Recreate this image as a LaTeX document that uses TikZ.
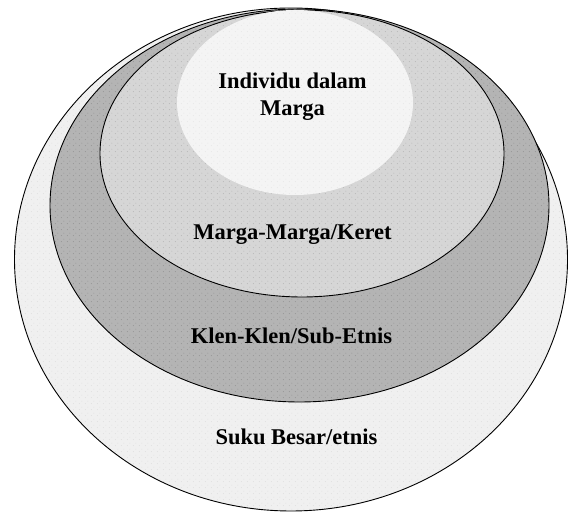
\documentclass[tikz,border=0pt]{standalone}
\usepackage{fontspec}
\setmainfont{Liberation Serif}
\usetikzlibrary{patterns.meta}
\tikzdeclarepattern{
  name=sdots,
  type=uncolored,
  bounding box={(0pt,0pt) and (6pt,6pt)},
  tile size={(6pt,6pt)},
  code={
    \pgfpathcircle{\pgfpoint{1.5pt}{1.5pt}}{0.55pt}
    \pgfpathcircle{\pgfpoint{4.5pt}{4.5pt}}{0.55pt}
    \pgfusepath{fill}
  }
}
\definecolor{outerfill}{HTML}{F0F0F0}
\definecolor{outerdot}{HTML}{D9D9D9}
\definecolor{klenfill}{HTML}{B4B4B4}
\definecolor{klendot}{HTML}{888888}
\definecolor{margafill}{HTML}{D6D6D6}
\definecolor{margadot}{HTML}{AAAAAA}
\definecolor{innerfill}{HTML}{F4F4F4}
\definecolor{innerdot}{HTML}{E2E2E2}
\tikzset{
  ring/.style={draw=black, line width=0.9pt},
  lbl/.style={anchor=base, inner sep=0pt, font=\fontsize{22.5}{28}\selectfont\bfseries}
}
\begin{document}
\begin{tikzpicture}[x=1pt,y=1pt]
\useasboundingbox (0,0) rectangle (568,513);
% outer: Suku Besar
\fill[outerfill] (291,253.5) ellipse [x radius=276.5, y radius=251.5];
\fill[pattern=sdots, pattern color=outerdot] (291,253.5) ellipse [x radius=276.5, y radius=251.5];
\draw[ring] (291,253.5) ellipse [x radius=276.5, y radius=251.5];
% Klen
\fill[klenfill] (299.5,307.5) ellipse [x radius=249.5, y radius=196.5];
\fill[pattern=sdots, pattern color=klendot] (299.5,307.5) ellipse [x radius=249.5, y radius=196.5];
\draw[ring] (299.5,307.5) ellipse [x radius=249.5, y radius=196.5];
% Marga
\fill[margafill] (302,359.5) ellipse [x radius=202, y radius=143.5];
\fill[pattern=sdots, pattern color=margadot] (302,359.5) ellipse [x radius=202, y radius=143.5];
\draw[ring] (302,359.5) ellipse [x radius=202, y radius=143.5];
% inner: Individu
\fill[innerfill] (295,410.5) ellipse [x radius=118, y radius=92.5];
\fill[pattern=sdots, pattern color=innerdot] (295,410.5) ellipse [x radius=118, y radius=92.5];
% labels
\node[lbl] (ind1) at (292.5,424) {Individu dalam};
\node[lbl] (ind2) at (292.5,397) {Marga};
\node[lbl] (marga) at (292.5,273) {Marga-Marga/Keret};
\node[lbl] (klen) at (291.5,169) {Klen-Klen/Sub-Etnis};
\node[lbl] (suku) at (296.5,68) {Suku Besar/etnis};
\end{tikzpicture}
\end{document}
